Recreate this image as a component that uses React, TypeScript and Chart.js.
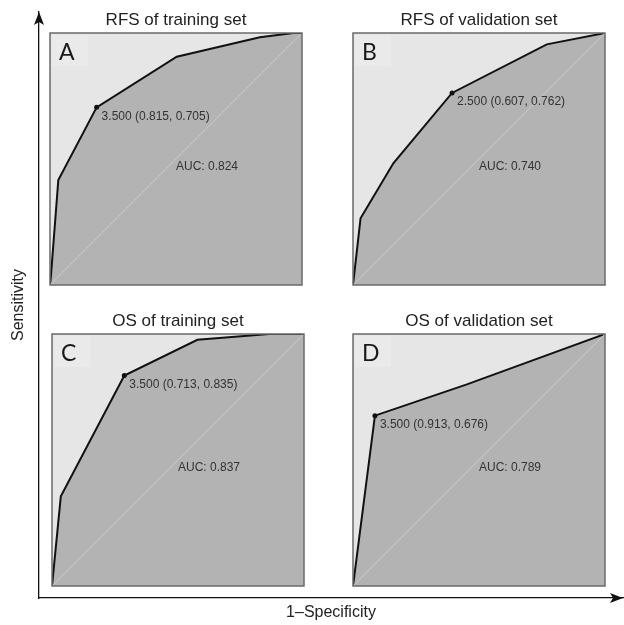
import React, { useEffect, useRef } from "react";
import { Chart, registerables } from "chart.js";

Chart.register(...registerables);

// ---- Data ----
const PANEL_TITLES = ["RFS of training set", "RFS of validation set", "OS of training set", "OS of validation set"];
const PANEL_LETTERS = ["A", "B", "C", "D"];

// ROC curves: x = 1 - specificity, y = sensitivity
const FPR_A = [0, 0.004, 0.033, 0.185, 0.503, 0.833, 0.966, 1];
const TPR_A = [0, 0.04, 0.417, 0.705, 0.906, 0.983, 1, 1];
const FPR_B = [0, 0.03, 0.16, 0.393, 0.769, 1];
const TPR_B = [0, 0.265, 0.483, 0.762, 0.955, 1];
const FPR_C = [0, 0.035, 0.287, 0.577, 0.862, 1];
const TPR_C = [0, 0.356, 0.835, 0.977, 1, 1];
const FPR_D = [0, 0.087, 0.452, 1];
const TPR_D = [0, 0.676, 0.8, 1];

const FPRS = [FPR_A, FPR_B, FPR_C, FPR_D];
const TPRS = [TPR_A, TPR_B, TPR_C, TPR_D];

// Best threshold points: threshold (specificity, sensitivity)
const BEST_THRESHOLD = [3.5, 2.5, 3.5, 3.5];
const BEST_SPEC = [0.815, 0.607, 0.713, 0.913];
const BEST_SENS = [0.705, 0.762, 0.835, 0.676];
const AUC_VALUES = [0.824, 0.74, 0.837, 0.789];

const X_AXIS_LABEL = "1\u2013Specificity";
const Y_AXIS_LABEL = "Sensitivity";

const SANS = "'Liberation Sans', Arial, Helvetica, sans-serif";

// panel canvas placement (canvas box, chart area set by padding)
const PANEL_POS = [
  { left: 40, top: 0 },
  { left: 343, top: 0 },
  { left: 42, top: 301 },
  { left: 343, top: 301 },
];
const PANEL_W = 272;
const PANEL_H = 290;

const panelDeco = {
  id: "panelDeco",
  beforeDatasetsDraw(chart: any, _args: any, opts: any) {
    const { ctx, chartArea: a } = chart;
    ctx.save();
    ctx.fillStyle = "#e6e6e6";
    ctx.fillRect(a.left, a.top, a.right - a.left, a.bottom - a.top);
    ctx.fillStyle = "#eaeaea";
    ctx.fillRect(a.left + 2, a.top + 2, 36, 31);
    ctx.restore();
  },
  afterDatasetsDraw(chart: any, _args: any, opts: any) {
    const { ctx, chartArea: a, scales } = chart;
    ctx.save();
    // border
    ctx.strokeStyle = "#6a6a6a";
    ctx.lineWidth = 1.5;
    ctx.strokeRect(a.left, a.top, a.right - a.left, a.bottom - a.top);
    // letter
    ctx.fillStyle = "#1a1a1a";
    ctx.font = "400 23px Lato, 'Open Sans', sans-serif";
    ctx.textAlign = "left";
    ctx.textBaseline = "alphabetic";
    ctx.fillText(opts.letter, a.left + 9, a.top + 27);
    // point label
    const meta = chart.getDatasetMeta(0);
    const el = meta.data[0];
    ctx.fillStyle = "#333";
    ctx.font = "12px " + SANS;
    ctx.textBaseline = "middle";
    if (el) ctx.fillText(opts.pointLabel, el.x + 5, el.y + 9);
    // AUC label
    ctx.fillText(opts.aucLabel, scales.x.getPixelForValue(0.5), scales.y.getPixelForValue(0.47));
    ctx.restore();
  },
};

function Panel({ idx }: { idx: number }) {
  const ref = useRef<HTMLCanvasElement>(null);
  useEffect(() => {
    if (!ref.current) return;
    const fpr = FPRS[idx];
    const tpr = TPRS[idx];
    const spec = BEST_SPEC[idx];
    const sens = BEST_SENS[idx];
    const chart = new Chart(ref.current, {
      type: "line",
      data: {
        datasets: [
          {
            label: "best",
            data: [{ x: 1 - spec, y: sens }],
            showLine: false,
            pointRadius: 2.5,
            pointBackgroundColor: "#111",
            pointBorderWidth: 0,
            fill: false,
          },
          {
            label: "diagonal",
            data: [{ x: 0, y: 0 }, { x: 1, y: 1 }],
            borderColor: "#c9c9c9",
            borderWidth: 1,
            pointRadius: 0,
            fill: false,
          },
          {
            label: "roc",
            data: fpr.map((x, i) => ({ x, y: tpr[i] })),
            borderColor: "#111",
            borderWidth: 2,
            pointRadius: 0,
            tension: 0,
            fill: "origin",
            backgroundColor: "#b3b3b3",
          },
        ],
      } as any,
      options: {
        responsive: false,
        animation: false,
        events: [],
        layout: { padding: { left: 10, right: 10, top: 0, bottom: 5 } },
        scales: {
          x: { type: "linear", min: 0, max: 1, display: false },
          y: { type: "linear", min: 0, max: 1, display: false },
        },
        plugins: {
          legend: { display: false },
          tooltip: { enabled: false },
          title: {
            display: true,
            text: PANEL_TITLES[idx],
            color: "#222",
            font: { size: 17, family: SANS, weight: "normal" as any, lineHeight: 1.2 },
            padding: { top: 10, bottom: 2.6 },
          },
          panelDeco: {
            letter: PANEL_LETTERS[idx],
            pointLabel: `${BEST_THRESHOLD[idx].toFixed(3)} (${spec.toFixed(3)}, ${sens.toFixed(3)})`,
            aucLabel: `AUC: ${AUC_VALUES[idx].toFixed(3)}`,
          },
        } as any,
      },
      plugins: [panelDeco],
    });
    return () => chart.destroy();
  }, [idx]);
  const p = PANEL_POS[idx];
  return (
    <canvas
      ref={ref}
      width={PANEL_W}
      height={PANEL_H}
      style={{ position: "absolute", left: p.left, top: p.top, width: PANEL_W, height: PANEL_H }}
    />
  );
}

const arrowPlugin = {
  id: "arrows",
  afterDraw(chart: any) {
    const { ctx, chartArea: a } = chart;
    ctx.save();
    ctx.fillStyle = "#111";
    // up arrow
    const ux = a.left, uy = a.top;
    ctx.beginPath();
    ctx.moveTo(ux, uy);
    ctx.lineTo(ux + 5, uy + 13);
    ctx.lineTo(ux, uy + 10);
    ctx.lineTo(ux - 5, uy + 13);
    ctx.closePath();
    ctx.fill();
    // right arrow
    const rx = a.right, ry = a.bottom;
    ctx.beginPath();
    ctx.moveTo(rx, ry);
    ctx.lineTo(rx - 13, ry - 5);
    ctx.lineTo(rx - 10, ry);
    ctx.lineTo(rx - 13, ry + 5);
    ctx.closePath();
    ctx.fill();
    ctx.restore();
  },
};

function OuterAxes() {
  const ref = useRef<HTMLCanvasElement>(null);
  useEffect(() => {
    if (!ref.current) return;
    const chart = new Chart(ref.current, {
      type: "scatter",
      data: { datasets: [] },
      options: {
        responsive: false,
        animation: false,
        events: [],
        layout: { padding: { top: 12, right: 1, left: 0, bottom: 0 } },
        scales: {
          x: {
            type: "linear",
            min: 0,
            max: 1,
            position: "bottom",
            ticks: { display: false },
            grid: { display: false, drawTicks: false },
            border: { display: true, color: "#111", width: 1.3 },
            title: {
              display: true,
              text: X_AXIS_LABEL,
              color: "#222",
              font: { size: 16, family: SANS, lineHeight: 1.2 },
              padding: { top: 5.4, bottom: 2.4 },
            },
          },
          y: {
            type: "linear",
            min: 0,
            max: 1,
            position: "left",
            ticks: { display: false },
            grid: { display: false, drawTicks: false },
            border: { display: true, color: "#111", width: 1.3 },
            title: {
              display: true,
              text: Y_AXIS_LABEL,
              color: "#222",
              font: { size: 16, family: SANS, lineHeight: 1.2 },
              padding: { top: 9.4, bottom: 10.4 },
            },
          },
        },
        plugins: { legend: { display: false }, tooltip: { enabled: false } },
      },
      plugins: [arrowPlugin],
    });
    return () => chart.destroy();
  }, []);
  return (
    <canvas
      ref={ref}
      width={624}
      height={625}
      style={{ position: "absolute", left: 0, top: 0, width: 624, height: 625 }}
    />
  );
}

export default function App() {
  return (
    <div style={{ position: "absolute", left: 0, top: 0, width: 624, height: 625, background: "#fff", overflow: "hidden" }}>
      <OuterAxes />
      {[0, 1, 2, 3].map((i) => (
        <Panel key={i} idx={i} />
      ))}
    </div>
  );
}
